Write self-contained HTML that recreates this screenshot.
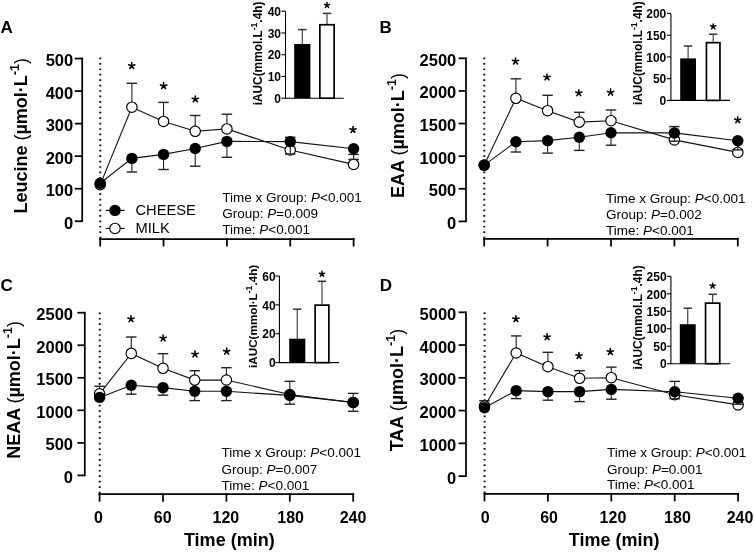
<!DOCTYPE html>
<html><head><meta charset="utf-8"><style>
html,body{margin:0;padding:0;background:#fff;}
svg{display:block;will-change:transform;font-family:"Liberation Sans", sans-serif;}
svg text{fill:#000;}
</style></head><body>
<svg width="754" height="552" viewBox="0 0 754 552">
<rect width="754" height="552" fill="#fff"/>
<line x1="82.2" y1="57.675" x2="82.2" y2="222.125" stroke="#000" stroke-width="1.75"/>
<line x1="74.8" y1="221.25" x2="82.2" y2="221.25" stroke="#000" stroke-width="1.75"/>
<text x="73.2" y="228.75" font-size="16.5" font-weight="bold" text-anchor="end" font-style="normal" >0</text>
<line x1="74.8" y1="188.71" x2="82.2" y2="188.71" stroke="#000" stroke-width="1.75"/>
<text x="73.2" y="196.21" font-size="16.5" font-weight="bold" text-anchor="end" font-style="normal" >100</text>
<line x1="74.8" y1="156.17000000000002" x2="82.2" y2="156.17000000000002" stroke="#000" stroke-width="1.75"/>
<text x="73.2" y="163.67000000000002" font-size="16.5" font-weight="bold" text-anchor="end" font-style="normal" >200</text>
<line x1="74.8" y1="123.63000000000001" x2="82.2" y2="123.63000000000001" stroke="#000" stroke-width="1.75"/>
<text x="73.2" y="131.13" font-size="16.5" font-weight="bold" text-anchor="end" font-style="normal" >300</text>
<line x1="74.8" y1="91.09" x2="82.2" y2="91.09" stroke="#000" stroke-width="1.75"/>
<text x="73.2" y="98.59" font-size="16.5" font-weight="bold" text-anchor="end" font-style="normal" >400</text>
<line x1="74.8" y1="58.55000000000001" x2="82.2" y2="58.55000000000001" stroke="#000" stroke-width="1.75"/>
<text x="73.2" y="66.05000000000001" font-size="16.5" font-weight="bold" text-anchor="end" font-style="normal" >500</text>
<line x1="99.2" y1="239.0" x2="354.6" y2="239.0" stroke="#000" stroke-width="1.75"/>
<line x1="100.2" y1="238.0" x2="100.2" y2="246.5" stroke="#000" stroke-width="1.75"/>
<line x1="163.55" y1="238.0" x2="163.55" y2="246.5" stroke="#000" stroke-width="1.75"/>
<line x1="226.9" y1="238.0" x2="226.9" y2="246.5" stroke="#000" stroke-width="1.75"/>
<line x1="290.25" y1="238.0" x2="290.25" y2="246.5" stroke="#000" stroke-width="1.75"/>
<line x1="353.6" y1="238.0" x2="353.6" y2="246.5" stroke="#000" stroke-width="1.75"/>
<line x1="100.3" y1="57.55" x2="100.3" y2="238.0" stroke="#000" stroke-width="1.9" stroke-dasharray="1.7 3.73"/>
<text x="0.5" y="32.8" font-size="17" font-weight="bold" text-anchor="start" font-style="normal" >A</text>
<text transform="translate(27.2,213.55) rotate(-90)" x="0" y="0" font-size="18" font-weight="bold" text-anchor="start">Leucine <tspan font-weight="normal">(</tspan>µmol·L<tspan dy="-8.0" font-size="12.5">-1</tspan><tspan dy="8.0" font-weight="normal">)</tspan></text>
<line x1="131.875" y1="107.2" x2="131.875" y2="83.3" stroke="#222" stroke-width="1.1"/>
<line x1="126.625" y1="83.3" x2="137.125" y2="83.3" stroke="#222" stroke-width="1.4000000000000001"/>
<line x1="163.55" y1="121.4" x2="163.55" y2="102.4" stroke="#222" stroke-width="1.1"/>
<line x1="158.3" y1="102.4" x2="168.8" y2="102.4" stroke="#222" stroke-width="1.4000000000000001"/>
<line x1="195.22500000000002" y1="131.3" x2="195.22500000000002" y2="115.5" stroke="#222" stroke-width="1.1"/>
<line x1="189.97500000000002" y1="115.5" x2="200.47500000000002" y2="115.5" stroke="#222" stroke-width="1.4000000000000001"/>
<line x1="226.9" y1="128.9" x2="226.9" y2="114.2" stroke="#222" stroke-width="1.1"/>
<line x1="221.65" y1="114.2" x2="232.15" y2="114.2" stroke="#222" stroke-width="1.4000000000000001"/>
<line x1="290.25" y1="150" x2="290.25" y2="137.3" stroke="#222" stroke-width="1.1"/>
<line x1="285.0" y1="137.3" x2="295.5" y2="137.3" stroke="#222" stroke-width="1.4000000000000001"/>
<line x1="353.6" y1="164.4" x2="353.6" y2="154.4" stroke="#222" stroke-width="1.1"/>
<line x1="348.35" y1="154.4" x2="358.85" y2="154.4" stroke="#222" stroke-width="1.4000000000000001"/>
<polyline points="100.2,184.6 131.875,107.2 163.55,121.4 195.22500000000002,131.3 226.9,128.9 290.25,150 353.6,164.4" fill="none" stroke="#111" stroke-width="1.1"/>
<circle cx="100.2" cy="184.6" r="5.2" fill="#fff" stroke="#000" stroke-width="1.15"/>
<circle cx="131.875" cy="107.2" r="5.2" fill="#fff" stroke="#000" stroke-width="1.15"/>
<circle cx="163.55" cy="121.4" r="5.2" fill="#fff" stroke="#000" stroke-width="1.15"/>
<circle cx="195.22500000000002" cy="131.3" r="5.2" fill="#fff" stroke="#000" stroke-width="1.15"/>
<circle cx="226.9" cy="128.9" r="5.2" fill="#fff" stroke="#000" stroke-width="1.15"/>
<circle cx="290.25" cy="150" r="5.2" fill="#fff" stroke="#000" stroke-width="1.15"/>
<circle cx="353.6" cy="164.4" r="5.2" fill="#fff" stroke="#000" stroke-width="1.15"/>
<polyline points="100.2,183.2 131.875,158.4 163.55,154.4 195.22500000000002,148.5 226.9,141.4 290.25,141.6 353.6,148.7" fill="none" stroke="#111" stroke-width="1.1"/>
<line x1="131.875" y1="158.4" x2="131.875" y2="172" stroke="#222" stroke-width="1.1"/>
<line x1="126.625" y1="172" x2="137.125" y2="172" stroke="#222" stroke-width="1.4000000000000001"/>
<line x1="163.55" y1="154.4" x2="163.55" y2="169.5" stroke="#222" stroke-width="1.1"/>
<line x1="158.3" y1="169.5" x2="168.8" y2="169.5" stroke="#222" stroke-width="1.4000000000000001"/>
<line x1="195.22500000000002" y1="148.5" x2="195.22500000000002" y2="166.2" stroke="#222" stroke-width="1.1"/>
<line x1="189.97500000000002" y1="166.2" x2="200.47500000000002" y2="166.2" stroke="#222" stroke-width="1.4000000000000001"/>
<line x1="226.9" y1="141.4" x2="226.9" y2="157.3" stroke="#222" stroke-width="1.1"/>
<line x1="221.65" y1="157.3" x2="232.15" y2="157.3" stroke="#222" stroke-width="1.4000000000000001"/>
<line x1="290.25" y1="141.6" x2="290.25" y2="154" stroke="#222" stroke-width="1.1"/>
<line x1="285.0" y1="154" x2="295.5" y2="154" stroke="#222" stroke-width="1.4000000000000001"/>
<line x1="353.6" y1="148.7" x2="353.6" y2="159.4" stroke="#222" stroke-width="1.1"/>
<line x1="348.35" y1="159.4" x2="358.85" y2="159.4" stroke="#222" stroke-width="1.4000000000000001"/>
<circle cx="100.2" cy="183.2" r="5.7" fill="#000"/>
<circle cx="131.875" cy="158.4" r="5.7" fill="#000"/>
<circle cx="163.55" cy="154.4" r="5.7" fill="#000"/>
<circle cx="195.22500000000002" cy="148.5" r="5.7" fill="#000"/>
<circle cx="226.9" cy="141.4" r="5.7" fill="#000"/>
<circle cx="290.25" cy="141.6" r="5.7" fill="#000"/>
<circle cx="353.6" cy="148.7" r="5.7" fill="#000"/>
<path d="M131.70,65.80L131.70,62.55M131.70,65.80L134.79,64.80M131.70,65.80L133.61,68.43M131.70,65.80L129.79,68.43M131.70,65.80L128.61,64.80" stroke="#000" stroke-width="1.6" stroke-linecap="round" fill="none"/>
<path d="M163.60,85.90L163.60,82.65M163.60,85.90L166.69,84.90M163.60,85.90L165.51,88.53M163.60,85.90L161.69,88.53M163.60,85.90L160.51,84.90" stroke="#000" stroke-width="1.6" stroke-linecap="round" fill="none"/>
<path d="M195.30,99.20L195.30,95.95M195.30,99.20L198.39,98.20M195.30,99.20L197.21,101.83M195.30,99.20L193.39,101.83M195.30,99.20L192.21,98.20" stroke="#000" stroke-width="1.6" stroke-linecap="round" fill="none"/>
<path d="M353.00,129.80L353.00,126.55M353.00,129.80L356.09,128.80M353.00,129.80L354.91,132.43M353.00,129.80L351.09,132.43M353.00,129.80L349.91,128.80" stroke="#000" stroke-width="1.6" stroke-linecap="round" fill="none"/>
<text x="222.3" y="202.0" font-size="13.5" font-weight="normal" text-anchor="start" font-style="normal" >Time x Group: <tspan font-style="italic">P</tspan>&lt;0.001</text>
<text x="222.3" y="218.2" font-size="13.5" font-weight="normal" text-anchor="start" font-style="normal" >Group: <tspan font-style="italic">P</tspan>=0.009</text>
<text x="222.3" y="234.4" font-size="13.5" font-weight="normal" text-anchor="start" font-style="normal" >Time: <tspan font-style="italic">P</tspan>&lt;0.001</text>
<line x1="285.5" y1="11.2" x2="285.5" y2="98.2" stroke="#000" stroke-width="1.1"/>
<line x1="281.5" y1="98.2" x2="285.5" y2="98.2" stroke="#000" stroke-width="1.1"/>
<text x="281.0" y="102.95" font-size="12" font-weight="bold" text-anchor="end" font-style="normal" >0</text>
<line x1="281.5" y1="76.45" x2="285.5" y2="76.45" stroke="#000" stroke-width="1.1"/>
<text x="281.0" y="81.2" font-size="12" font-weight="bold" text-anchor="end" font-style="normal" >10</text>
<line x1="281.5" y1="54.7" x2="285.5" y2="54.7" stroke="#000" stroke-width="1.1"/>
<text x="281.0" y="59.45" font-size="12" font-weight="bold" text-anchor="end" font-style="normal" >20</text>
<line x1="281.5" y1="32.95" x2="285.5" y2="32.95" stroke="#000" stroke-width="1.1"/>
<text x="281.0" y="37.7" font-size="12" font-weight="bold" text-anchor="end" font-style="normal" >30</text>
<line x1="281.5" y1="11.200000000000003" x2="285.5" y2="11.200000000000003" stroke="#000" stroke-width="1.1"/>
<text x="281.0" y="15.950000000000003" font-size="12" font-weight="bold" text-anchor="end" font-style="normal" >40</text>
<line x1="285.0" y1="98.2" x2="343.8" y2="98.2" stroke="#000" stroke-width="1.1"/>
<line x1="302.29999999999995" y1="44.0" x2="302.29999999999995" y2="29.6" stroke="#333" stroke-width="1.1"/>
<line x1="298.09999999999997" y1="29.6" x2="306.49999999999994" y2="29.6" stroke="#333" stroke-width="1.5"/>
<line x1="327.0" y1="23.9" x2="327.0" y2="13.4" stroke="#333" stroke-width="1.1"/>
<line x1="322.8" y1="13.4" x2="331.2" y2="13.4" stroke="#333" stroke-width="1.5"/>
<rect x="294.2" y="44.0" width="16.19999999999999" height="54.2" fill="#000"/>
<rect x="319.85" y="24.75" width="14.3" height="73.45000000000002" fill="#fff" stroke="#000" stroke-width="1.7"/>
<path d="M327.00,5.20L327.00,2.50M327.00,5.20L329.57,4.37M327.00,5.20L328.59,7.38M327.00,5.20L325.41,7.38M327.00,5.20L324.43,4.37" stroke="#000" stroke-width="1.5" stroke-linecap="round" fill="none"/>
<text transform="translate(261.8,105.3) rotate(-90)" x="0" y="0" font-size="11.85" font-weight="bold">iAUC(mmol.L<tspan dy="-5" font-size="8.6">-1</tspan><tspan dy="5">.4h)</tspan></text>
<line x1="466.0" y1="57.425" x2="466.0" y2="222.275" stroke="#000" stroke-width="1.75"/>
<line x1="458.6" y1="221.4" x2="466.0" y2="221.4" stroke="#000" stroke-width="1.75"/>
<text x="456.3" y="228.9" font-size="16.5" font-weight="bold" text-anchor="end" font-style="normal" >0</text>
<line x1="458.6" y1="188.78" x2="466.0" y2="188.78" stroke="#000" stroke-width="1.75"/>
<text x="456.3" y="196.28" font-size="16.5" font-weight="bold" text-anchor="end" font-style="normal" >500</text>
<line x1="458.6" y1="156.16" x2="466.0" y2="156.16" stroke="#000" stroke-width="1.75"/>
<text x="456.3" y="163.66" font-size="16.5" font-weight="bold" text-anchor="end" font-style="normal" >1000</text>
<line x1="458.6" y1="123.53999999999999" x2="466.0" y2="123.53999999999999" stroke="#000" stroke-width="1.75"/>
<text x="456.3" y="131.04" font-size="16.5" font-weight="bold" text-anchor="end" font-style="normal" >1500</text>
<line x1="458.6" y1="90.91999999999999" x2="466.0" y2="90.91999999999999" stroke="#000" stroke-width="1.75"/>
<text x="456.3" y="98.41999999999999" font-size="16.5" font-weight="bold" text-anchor="end" font-style="normal" >2000</text>
<line x1="458.6" y1="58.29999999999998" x2="466.0" y2="58.29999999999998" stroke="#000" stroke-width="1.75"/>
<text x="456.3" y="65.79999999999998" font-size="16.5" font-weight="bold" text-anchor="end" font-style="normal" >2500</text>
<line x1="483.2" y1="238.9" x2="738.8" y2="238.9" stroke="#000" stroke-width="1.75"/>
<line x1="484.2" y1="237.9" x2="484.2" y2="246.4" stroke="#000" stroke-width="1.75"/>
<line x1="547.6" y1="237.9" x2="547.6" y2="246.4" stroke="#000" stroke-width="1.75"/>
<line x1="611.0" y1="237.9" x2="611.0" y2="246.4" stroke="#000" stroke-width="1.75"/>
<line x1="674.4" y1="237.9" x2="674.4" y2="246.4" stroke="#000" stroke-width="1.75"/>
<line x1="737.8" y1="237.9" x2="737.8" y2="246.4" stroke="#000" stroke-width="1.75"/>
<line x1="484.3" y1="57.55" x2="484.3" y2="237.9" stroke="#000" stroke-width="1.9" stroke-dasharray="1.7 3.73"/>
<text x="379.55" y="32.6" font-size="17" font-weight="bold" text-anchor="start" font-style="normal" >B</text>
<text transform="translate(403.7,197.95) rotate(-90)" x="0" y="0" font-size="18" font-weight="bold" text-anchor="start">EAA <tspan font-weight="normal">(</tspan>µmol·L<tspan dy="-8.0" font-size="12.5">-1</tspan><tspan dy="8.0" font-weight="normal">)</tspan></text>
<line x1="515.9" y1="98.3" x2="515.9" y2="78.8" stroke="#222" stroke-width="1.1"/>
<line x1="510.65" y1="78.8" x2="521.15" y2="78.8" stroke="#222" stroke-width="1.4000000000000001"/>
<line x1="547.6" y1="110.7" x2="547.6" y2="95.3" stroke="#222" stroke-width="1.1"/>
<line x1="542.35" y1="95.3" x2="552.85" y2="95.3" stroke="#222" stroke-width="1.4000000000000001"/>
<line x1="579.3" y1="122.1" x2="579.3" y2="112.3" stroke="#222" stroke-width="1.1"/>
<line x1="574.05" y1="112.3" x2="584.55" y2="112.3" stroke="#222" stroke-width="1.4000000000000001"/>
<line x1="611.0" y1="120.7" x2="611.0" y2="110" stroke="#222" stroke-width="1.1"/>
<line x1="605.75" y1="110" x2="616.25" y2="110" stroke="#222" stroke-width="1.4000000000000001"/>
<line x1="674.4" y1="139.9" x2="674.4" y2="126.6" stroke="#222" stroke-width="1.1"/>
<line x1="669.15" y1="126.6" x2="679.65" y2="126.6" stroke="#222" stroke-width="1.4000000000000001"/>
<line x1="737.8" y1="152.4" x2="737.8" y2="141" stroke="#222" stroke-width="1.1"/>
<line x1="732.55" y1="141" x2="743.05" y2="141" stroke="#222" stroke-width="1.4000000000000001"/>
<polyline points="484.2,165.1 515.9,98.3 547.6,110.7 579.3,122.1 611.0,120.7 674.4,139.9 737.8,152.4" fill="none" stroke="#111" stroke-width="1.1"/>
<circle cx="484.2" cy="165.1" r="5.2" fill="#fff" stroke="#000" stroke-width="1.15"/>
<circle cx="515.9" cy="98.3" r="5.2" fill="#fff" stroke="#000" stroke-width="1.15"/>
<circle cx="547.6" cy="110.7" r="5.2" fill="#fff" stroke="#000" stroke-width="1.15"/>
<circle cx="579.3" cy="122.1" r="5.2" fill="#fff" stroke="#000" stroke-width="1.15"/>
<circle cx="611.0" cy="120.7" r="5.2" fill="#fff" stroke="#000" stroke-width="1.15"/>
<circle cx="674.4" cy="139.9" r="5.2" fill="#fff" stroke="#000" stroke-width="1.15"/>
<circle cx="737.8" cy="152.4" r="5.2" fill="#fff" stroke="#000" stroke-width="1.15"/>
<polyline points="484.2,165.1 515.9,141.8 547.6,140.6 579.3,137.2 611.0,132.7 674.4,132.9 737.8,140.7" fill="none" stroke="#111" stroke-width="1.1"/>
<line x1="515.9" y1="141.8" x2="515.9" y2="152" stroke="#222" stroke-width="1.1"/>
<line x1="510.65" y1="152" x2="521.15" y2="152" stroke="#222" stroke-width="1.4000000000000001"/>
<line x1="547.6" y1="140.6" x2="547.6" y2="153.1" stroke="#222" stroke-width="1.1"/>
<line x1="542.35" y1="153.1" x2="552.85" y2="153.1" stroke="#222" stroke-width="1.4000000000000001"/>
<line x1="579.3" y1="137.2" x2="579.3" y2="150.4" stroke="#222" stroke-width="1.1"/>
<line x1="574.05" y1="150.4" x2="584.55" y2="150.4" stroke="#222" stroke-width="1.4000000000000001"/>
<line x1="611.0" y1="132.7" x2="611.0" y2="145.2" stroke="#222" stroke-width="1.1"/>
<line x1="605.75" y1="145.2" x2="616.25" y2="145.2" stroke="#222" stroke-width="1.4000000000000001"/>
<line x1="674.4" y1="132.9" x2="674.4" y2="141.2" stroke="#222" stroke-width="1.1"/>
<line x1="669.15" y1="141.2" x2="679.65" y2="141.2" stroke="#222" stroke-width="1.4000000000000001"/>
<line x1="737.8" y1="140.7" x2="737.8" y2="149.9" stroke="#222" stroke-width="1.1"/>
<line x1="732.55" y1="149.9" x2="743.05" y2="149.9" stroke="#222" stroke-width="1.4000000000000001"/>
<circle cx="484.2" cy="165.1" r="5.7" fill="#000"/>
<circle cx="515.9" cy="141.8" r="5.7" fill="#000"/>
<circle cx="547.6" cy="140.6" r="5.7" fill="#000"/>
<circle cx="579.3" cy="137.2" r="5.7" fill="#000"/>
<circle cx="611.0" cy="132.7" r="5.7" fill="#000"/>
<circle cx="674.4" cy="132.9" r="5.7" fill="#000"/>
<circle cx="737.8" cy="140.7" r="5.7" fill="#000"/>
<path d="M515.50,61.30L515.50,58.05M515.50,61.30L518.59,60.30M515.50,61.30L517.41,63.93M515.50,61.30L513.59,63.93M515.50,61.30L512.41,60.30" stroke="#000" stroke-width="1.6" stroke-linecap="round" fill="none"/>
<path d="M547.00,77.20L547.00,73.95M547.00,77.20L550.09,76.20M547.00,77.20L548.91,79.83M547.00,77.20L545.09,79.83M547.00,77.20L543.91,76.20" stroke="#000" stroke-width="1.6" stroke-linecap="round" fill="none"/>
<path d="M578.80,93.00L578.80,89.75M578.80,93.00L581.89,92.00M578.80,93.00L580.71,95.63M578.80,93.00L576.89,95.63M578.80,93.00L575.71,92.00" stroke="#000" stroke-width="1.6" stroke-linecap="round" fill="none"/>
<path d="M610.60,92.40L610.60,89.15M610.60,92.40L613.69,91.40M610.60,92.40L612.51,95.03M610.60,92.40L608.69,95.03M610.60,92.40L607.51,91.40" stroke="#000" stroke-width="1.6" stroke-linecap="round" fill="none"/>
<path d="M737.70,120.00L737.70,116.75M737.70,120.00L740.79,119.00M737.70,120.00L739.61,122.63M737.70,120.00L735.79,122.63M737.70,120.00L734.61,119.00" stroke="#000" stroke-width="1.6" stroke-linecap="round" fill="none"/>
<text x="606.0" y="203.0" font-size="13.5" font-weight="normal" text-anchor="start" font-style="normal" >Time x Group: <tspan font-style="italic">P</tspan>&lt;0.001</text>
<text x="606.0" y="218.9" font-size="13.5" font-weight="normal" text-anchor="start" font-style="normal" >Group: <tspan font-style="italic">P</tspan>=0.002</text>
<text x="606.0" y="235.0" font-size="13.5" font-weight="normal" text-anchor="start" font-style="normal" >Time: <tspan font-style="italic">P</tspan>&lt;0.001</text>
<line x1="670.9" y1="13.4" x2="670.9" y2="100.4" stroke="#000" stroke-width="1.1"/>
<line x1="666.9" y1="100.4" x2="670.9" y2="100.4" stroke="#000" stroke-width="1.1"/>
<text x="666.3" y="105.15" font-size="12" font-weight="bold" text-anchor="end" font-style="normal" >0</text>
<line x1="666.9" y1="78.65" x2="670.9" y2="78.65" stroke="#000" stroke-width="1.1"/>
<text x="666.3" y="83.4" font-size="12" font-weight="bold" text-anchor="end" font-style="normal" >50</text>
<line x1="666.9" y1="56.900000000000006" x2="670.9" y2="56.900000000000006" stroke="#000" stroke-width="1.1"/>
<text x="666.3" y="61.650000000000006" font-size="12" font-weight="bold" text-anchor="end" font-style="normal" >100</text>
<line x1="666.9" y1="35.150000000000006" x2="670.9" y2="35.150000000000006" stroke="#000" stroke-width="1.1"/>
<text x="666.3" y="39.900000000000006" font-size="12" font-weight="bold" text-anchor="end" font-style="normal" >150</text>
<line x1="666.9" y1="13.400000000000006" x2="670.9" y2="13.400000000000006" stroke="#000" stroke-width="1.1"/>
<text x="666.3" y="18.150000000000006" font-size="12" font-weight="bold" text-anchor="end" font-style="normal" >200</text>
<line x1="670.4" y1="100.4" x2="730" y2="100.4" stroke="#000" stroke-width="1.1"/>
<line x1="688.1" y1="58.4" x2="688.1" y2="46.0" stroke="#333" stroke-width="1.1"/>
<line x1="683.9" y1="46.0" x2="692.3000000000001" y2="46.0" stroke="#333" stroke-width="1.5"/>
<line x1="713.2" y1="41.8" x2="713.2" y2="34.2" stroke="#333" stroke-width="1.1"/>
<line x1="709.0" y1="34.2" x2="717.4000000000001" y2="34.2" stroke="#333" stroke-width="1.5"/>
<rect x="680.2" y="58.4" width="15.799999999999955" height="42.00000000000001" fill="#000"/>
<rect x="706.45" y="42.65" width="13.499999999999932" height="57.75000000000001" fill="#fff" stroke="#000" stroke-width="1.7"/>
<path d="M713.20,26.60L713.20,23.90M713.20,26.60L715.77,25.77M713.20,26.60L714.79,28.78M713.20,26.60L711.61,28.78M713.20,26.60L710.63,25.77" stroke="#000" stroke-width="1.5" stroke-linecap="round" fill="none"/>
<text transform="translate(641.6,105.05) rotate(-90)" x="0" y="0" font-size="11.85" font-weight="bold">iAUC(mmol.L<tspan dy="-5" font-size="8.6">-1</tspan><tspan dy="5">.4h)</tspan></text>
<line x1="84.8" y1="311.825" x2="84.8" y2="476.275" stroke="#000" stroke-width="1.75"/>
<line x1="77.39999999999999" y1="475.4" x2="84.8" y2="475.4" stroke="#000" stroke-width="1.75"/>
<text x="73.0" y="482.9" font-size="16.5" font-weight="bold" text-anchor="end" font-style="normal" >0</text>
<line x1="77.39999999999999" y1="442.85999999999996" x2="84.8" y2="442.85999999999996" stroke="#000" stroke-width="1.75"/>
<text x="73.0" y="450.35999999999996" font-size="16.5" font-weight="bold" text-anchor="end" font-style="normal" >500</text>
<line x1="77.39999999999999" y1="410.32" x2="84.8" y2="410.32" stroke="#000" stroke-width="1.75"/>
<text x="73.0" y="417.82" font-size="16.5" font-weight="bold" text-anchor="end" font-style="normal" >1000</text>
<line x1="77.39999999999999" y1="377.78" x2="84.8" y2="377.78" stroke="#000" stroke-width="1.75"/>
<text x="73.0" y="385.28" font-size="16.5" font-weight="bold" text-anchor="end" font-style="normal" >1500</text>
<line x1="77.39999999999999" y1="345.24" x2="84.8" y2="345.24" stroke="#000" stroke-width="1.75"/>
<text x="73.0" y="352.74" font-size="16.5" font-weight="bold" text-anchor="end" font-style="normal" >2000</text>
<line x1="77.39999999999999" y1="312.7" x2="84.8" y2="312.7" stroke="#000" stroke-width="1.75"/>
<text x="73.0" y="320.2" font-size="16.5" font-weight="bold" text-anchor="end" font-style="normal" >2500</text>
<line x1="98.6" y1="494.2" x2="354.2" y2="494.2" stroke="#000" stroke-width="1.75"/>
<line x1="99.6" y1="493.2" x2="99.6" y2="501.7" stroke="#000" stroke-width="1.75"/>
<line x1="163.0" y1="493.2" x2="163.0" y2="501.7" stroke="#000" stroke-width="1.75"/>
<line x1="226.4" y1="493.2" x2="226.4" y2="501.7" stroke="#000" stroke-width="1.75"/>
<line x1="289.8" y1="493.2" x2="289.8" y2="501.7" stroke="#000" stroke-width="1.75"/>
<line x1="353.2" y1="493.2" x2="353.2" y2="501.7" stroke="#000" stroke-width="1.75"/>
<text x="98.4" y="522.6" font-size="16" font-weight="bold" text-anchor="middle" font-style="normal" >0</text>
<text x="162.7" y="522.6" font-size="16" font-weight="bold" text-anchor="middle" font-style="normal" >60</text>
<text x="225.85" y="522.6" font-size="16" font-weight="bold" text-anchor="middle" font-style="normal" >120</text>
<text x="290.65" y="522.6" font-size="16" font-weight="bold" text-anchor="middle" font-style="normal" >180</text>
<text x="353.0" y="522.6" font-size="16" font-weight="bold" text-anchor="middle" font-style="normal" >240</text>
<text x="229.3" y="546.2" font-size="18" font-weight="bold" text-anchor="middle" font-style="normal" >Time (min)</text>
<line x1="99.7" y1="312.45" x2="99.7" y2="493.2" stroke="#000" stroke-width="1.9" stroke-dasharray="1.7 3.73"/>
<text x="0.55" y="291.3" font-size="17" font-weight="bold" text-anchor="start" font-style="normal" >C</text>
<text transform="translate(19.8,458.85) rotate(-90)" x="0" y="0" font-size="18" font-weight="bold" text-anchor="start">NEAA <tspan font-weight="normal">(</tspan>µmol·L<tspan dy="-8.0" font-size="12.5">-1</tspan><tspan dy="8.0" font-weight="normal">)</tspan></text>
<line x1="99.6" y1="393.8" x2="99.6" y2="386.3" stroke="#222" stroke-width="1.1"/>
<line x1="94.35" y1="386.3" x2="104.85" y2="386.3" stroke="#222" stroke-width="1.4000000000000001"/>
<line x1="131.29999999999998" y1="353.4" x2="131.29999999999998" y2="337" stroke="#222" stroke-width="1.1"/>
<line x1="126.04999999999998" y1="337" x2="136.54999999999998" y2="337" stroke="#222" stroke-width="1.4000000000000001"/>
<line x1="163.0" y1="368.3" x2="163.0" y2="353.7" stroke="#222" stroke-width="1.1"/>
<line x1="157.75" y1="353.7" x2="168.25" y2="353.7" stroke="#222" stroke-width="1.4000000000000001"/>
<line x1="194.7" y1="380.1" x2="194.7" y2="370.7" stroke="#222" stroke-width="1.1"/>
<line x1="189.45" y1="370.7" x2="199.95" y2="370.7" stroke="#222" stroke-width="1.4000000000000001"/>
<line x1="226.39999999999998" y1="380.0" x2="226.39999999999998" y2="367.7" stroke="#222" stroke-width="1.1"/>
<line x1="221.14999999999998" y1="367.7" x2="231.64999999999998" y2="367.7" stroke="#222" stroke-width="1.4000000000000001"/>
<line x1="289.79999999999995" y1="394.5" x2="289.79999999999995" y2="381.3" stroke="#222" stroke-width="1.1"/>
<line x1="284.54999999999995" y1="381.3" x2="295.04999999999995" y2="381.3" stroke="#222" stroke-width="1.4000000000000001"/>
<line x1="353.2" y1="402.5" x2="353.2" y2="393.4" stroke="#222" stroke-width="1.1"/>
<line x1="347.95" y1="393.4" x2="358.45" y2="393.4" stroke="#222" stroke-width="1.4000000000000001"/>
<polyline points="99.6,393.8 131.29999999999998,353.4 163.0,368.3 194.7,380.1 226.39999999999998,380.0 289.79999999999995,394.5 353.2,402.5" fill="none" stroke="#111" stroke-width="1.1"/>
<circle cx="99.6" cy="393.8" r="5.2" fill="#fff" stroke="#000" stroke-width="1.15"/>
<circle cx="131.29999999999998" cy="353.4" r="5.2" fill="#fff" stroke="#000" stroke-width="1.15"/>
<circle cx="163.0" cy="368.3" r="5.2" fill="#fff" stroke="#000" stroke-width="1.15"/>
<circle cx="194.7" cy="380.1" r="5.2" fill="#fff" stroke="#000" stroke-width="1.15"/>
<circle cx="226.39999999999998" cy="380.0" r="5.2" fill="#fff" stroke="#000" stroke-width="1.15"/>
<circle cx="289.79999999999995" cy="394.5" r="5.2" fill="#fff" stroke="#000" stroke-width="1.15"/>
<circle cx="353.2" cy="402.5" r="5.2" fill="#fff" stroke="#000" stroke-width="1.15"/>
<polyline points="99.6,397.4 131.29999999999998,385.2 163.0,387.6 194.7,391.2 226.39999999999998,391.3 289.79999999999995,395.4 353.2,402.4" fill="none" stroke="#111" stroke-width="1.1"/>
<line x1="131.29999999999998" y1="385.2" x2="131.29999999999998" y2="394.2" stroke="#222" stroke-width="1.1"/>
<line x1="126.04999999999998" y1="394.2" x2="136.54999999999998" y2="394.2" stroke="#222" stroke-width="1.4000000000000001"/>
<line x1="163.0" y1="387.6" x2="163.0" y2="395.2" stroke="#222" stroke-width="1.1"/>
<line x1="157.75" y1="395.2" x2="168.25" y2="395.2" stroke="#222" stroke-width="1.4000000000000001"/>
<line x1="194.7" y1="391.2" x2="194.7" y2="400.6" stroke="#222" stroke-width="1.1"/>
<line x1="189.45" y1="400.6" x2="199.95" y2="400.6" stroke="#222" stroke-width="1.4000000000000001"/>
<line x1="226.39999999999998" y1="391.3" x2="226.39999999999998" y2="400.6" stroke="#222" stroke-width="1.1"/>
<line x1="221.14999999999998" y1="400.6" x2="231.64999999999998" y2="400.6" stroke="#222" stroke-width="1.4000000000000001"/>
<line x1="289.79999999999995" y1="395.4" x2="289.79999999999995" y2="404.2" stroke="#222" stroke-width="1.1"/>
<line x1="284.54999999999995" y1="404.2" x2="295.04999999999995" y2="404.2" stroke="#222" stroke-width="1.4000000000000001"/>
<line x1="353.2" y1="402.4" x2="353.2" y2="411.3" stroke="#222" stroke-width="1.1"/>
<line x1="347.95" y1="411.3" x2="358.45" y2="411.3" stroke="#222" stroke-width="1.4000000000000001"/>
<circle cx="99.6" cy="397.4" r="5.7" fill="#000"/>
<circle cx="131.29999999999998" cy="385.2" r="5.7" fill="#000"/>
<circle cx="163.0" cy="387.6" r="5.7" fill="#000"/>
<circle cx="194.7" cy="391.2" r="5.7" fill="#000"/>
<circle cx="226.39999999999998" cy="391.3" r="5.7" fill="#000"/>
<circle cx="289.79999999999995" cy="395.4" r="5.7" fill="#000"/>
<circle cx="353.2" cy="402.4" r="5.7" fill="#000"/>
<path d="M131.00,319.00L131.00,315.75M131.00,319.00L134.09,318.00M131.00,319.00L132.91,321.63M131.00,319.00L129.09,321.63M131.00,319.00L127.91,318.00" stroke="#000" stroke-width="1.6" stroke-linecap="round" fill="none"/>
<path d="M163.10,338.20L163.10,334.95M163.10,338.20L166.19,337.20M163.10,338.20L165.01,340.83M163.10,338.20L161.19,340.83M163.10,338.20L160.01,337.20" stroke="#000" stroke-width="1.6" stroke-linecap="round" fill="none"/>
<path d="M195.00,354.20L195.00,350.95M195.00,354.20L198.09,353.20M195.00,354.20L196.91,356.83M195.00,354.20L193.09,356.83M195.00,354.20L191.91,353.20" stroke="#000" stroke-width="1.6" stroke-linecap="round" fill="none"/>
<path d="M226.70,351.40L226.70,348.15M226.70,351.40L229.79,350.40M226.70,351.40L228.61,354.03M226.70,351.40L224.79,354.03M226.70,351.40L223.61,350.40" stroke="#000" stroke-width="1.6" stroke-linecap="round" fill="none"/>
<text x="221.5" y="457.0" font-size="13.5" font-weight="normal" text-anchor="start" font-style="normal" >Time x Group: <tspan font-style="italic">P</tspan>&lt;0.001</text>
<text x="221.5" y="473.6" font-size="13.5" font-weight="normal" text-anchor="start" font-style="normal" >Group: <tspan font-style="italic">P</tspan>=0.007</text>
<text x="221.5" y="489.5" font-size="13.5" font-weight="normal" text-anchor="start" font-style="normal" >Time: <tspan font-style="italic">P</tspan>&lt;0.001</text>
<line x1="279.4" y1="276.0" x2="279.4" y2="362.6" stroke="#000" stroke-width="1.1"/>
<line x1="275.4" y1="362.6" x2="279.4" y2="362.6" stroke="#000" stroke-width="1.1"/>
<text x="275.7" y="367.35" font-size="12" font-weight="bold" text-anchor="end" font-style="normal" >0</text>
<line x1="275.4" y1="333.73333333333335" x2="279.4" y2="333.73333333333335" stroke="#000" stroke-width="1.1"/>
<text x="275.7" y="338.48333333333335" font-size="12" font-weight="bold" text-anchor="end" font-style="normal" >20</text>
<line x1="275.4" y1="304.8666666666667" x2="279.4" y2="304.8666666666667" stroke="#000" stroke-width="1.1"/>
<text x="275.7" y="309.6166666666667" font-size="12" font-weight="bold" text-anchor="end" font-style="normal" >40</text>
<line x1="275.4" y1="276.0" x2="279.4" y2="276.0" stroke="#000" stroke-width="1.1"/>
<text x="275.7" y="280.75" font-size="12" font-weight="bold" text-anchor="end" font-style="normal" >60</text>
<line x1="278.9" y1="362.6" x2="339" y2="362.6" stroke="#000" stroke-width="1.1"/>
<line x1="297.25" y1="338.7" x2="297.25" y2="309.2" stroke="#333" stroke-width="1.1"/>
<line x1="293.05" y1="309.2" x2="301.45" y2="309.2" stroke="#333" stroke-width="1.5"/>
<line x1="322.0" y1="304.3" x2="322.0" y2="281.3" stroke="#333" stroke-width="1.1"/>
<line x1="317.8" y1="281.3" x2="326.2" y2="281.3" stroke="#333" stroke-width="1.5"/>
<rect x="289.2" y="338.7" width="16.100000000000023" height="23.900000000000034" fill="#000"/>
<rect x="315.15000000000003" y="305.15000000000003" width="13.699999999999978" height="57.45000000000001" fill="#fff" stroke="#000" stroke-width="1.7"/>
<path d="M322.00,274.00L322.00,271.30M322.00,274.00L324.57,273.17M322.00,274.00L323.59,276.18M322.00,274.00L320.41,276.18M322.00,274.00L319.43,273.17" stroke="#000" stroke-width="1.5" stroke-linecap="round" fill="none"/>
<text transform="translate(257.0,367.95) rotate(-90)" x="0" y="0" font-size="11.7" font-weight="bold">iAUC(mmol·L<tspan dy="-5" font-size="8.6">-1</tspan><tspan dy="5">.4h)</tspan></text>
<line x1="466.0" y1="311.425" x2="466.0" y2="476.975" stroke="#000" stroke-width="1.75"/>
<line x1="458.6" y1="476.1" x2="466.0" y2="476.1" stroke="#000" stroke-width="1.75"/>
<text x="456.3" y="483.6" font-size="16.5" font-weight="bold" text-anchor="end" font-style="normal" >0</text>
<line x1="458.6" y1="443.34000000000003" x2="466.0" y2="443.34000000000003" stroke="#000" stroke-width="1.75"/>
<text x="456.3" y="450.84000000000003" font-size="16.5" font-weight="bold" text-anchor="end" font-style="normal" >1000</text>
<line x1="458.6" y1="410.58000000000004" x2="466.0" y2="410.58000000000004" stroke="#000" stroke-width="1.75"/>
<text x="456.3" y="418.08000000000004" font-size="16.5" font-weight="bold" text-anchor="end" font-style="normal" >2000</text>
<line x1="458.6" y1="377.82000000000005" x2="466.0" y2="377.82000000000005" stroke="#000" stroke-width="1.75"/>
<text x="456.3" y="385.32000000000005" font-size="16.5" font-weight="bold" text-anchor="end" font-style="normal" >3000</text>
<line x1="458.6" y1="345.06" x2="466.0" y2="345.06" stroke="#000" stroke-width="1.75"/>
<text x="456.3" y="352.56" font-size="16.5" font-weight="bold" text-anchor="end" font-style="normal" >4000</text>
<line x1="458.6" y1="312.3" x2="466.0" y2="312.3" stroke="#000" stroke-width="1.75"/>
<text x="456.3" y="319.8" font-size="16.5" font-weight="bold" text-anchor="end" font-style="normal" >5000</text>
<line x1="483.5" y1="493.9" x2="739.1" y2="493.9" stroke="#000" stroke-width="1.75"/>
<line x1="484.5" y1="492.9" x2="484.5" y2="501.4" stroke="#000" stroke-width="1.75"/>
<line x1="547.9" y1="492.9" x2="547.9" y2="501.4" stroke="#000" stroke-width="1.75"/>
<line x1="611.3" y1="492.9" x2="611.3" y2="501.4" stroke="#000" stroke-width="1.75"/>
<line x1="674.7" y1="492.9" x2="674.7" y2="501.4" stroke="#000" stroke-width="1.75"/>
<line x1="738.1" y1="492.9" x2="738.1" y2="501.4" stroke="#000" stroke-width="1.75"/>
<text x="485.2" y="522.6" font-size="16" font-weight="bold" text-anchor="middle" font-style="normal" >0</text>
<text x="549.1" y="522.6" font-size="16" font-weight="bold" text-anchor="middle" font-style="normal" >60</text>
<text x="612.95" y="522.6" font-size="16" font-weight="bold" text-anchor="middle" font-style="normal" >120</text>
<text x="677.45" y="522.6" font-size="16" font-weight="bold" text-anchor="middle" font-style="normal" >180</text>
<text x="740.0" y="522.6" font-size="16" font-weight="bold" text-anchor="middle" font-style="normal" >240</text>
<text x="614.2" y="546.2" font-size="18" font-weight="bold" text-anchor="middle" font-style="normal" >Time (min)</text>
<line x1="484.6" y1="312.3" x2="484.6" y2="492.9" stroke="#000" stroke-width="1.9" stroke-dasharray="1.7 3.73"/>
<text x="379.75" y="291.0" font-size="17" font-weight="bold" text-anchor="start" font-style="normal" >D</text>
<text transform="translate(402.9,451.35) rotate(-90)" x="0" y="0" font-size="18" font-weight="bold" text-anchor="start">TAA <tspan font-weight="normal">(</tspan>µmol·L<tspan dy="-8.0" font-size="12.5">-1</tspan><tspan dy="8.0" font-weight="normal">)</tspan></text>
<line x1="484.5" y1="406.2" x2="484.5" y2="400.8" stroke="#222" stroke-width="1.1"/>
<line x1="479.25" y1="400.8" x2="489.75" y2="400.8" stroke="#222" stroke-width="1.4000000000000001"/>
<line x1="516.2" y1="353.0" x2="516.2" y2="335.9" stroke="#222" stroke-width="1.1"/>
<line x1="510.95000000000005" y1="335.9" x2="521.45" y2="335.9" stroke="#222" stroke-width="1.4000000000000001"/>
<line x1="547.9" y1="366.7" x2="547.9" y2="352.3" stroke="#222" stroke-width="1.1"/>
<line x1="542.65" y1="352.3" x2="553.15" y2="352.3" stroke="#222" stroke-width="1.4000000000000001"/>
<line x1="579.6" y1="378.3" x2="579.6" y2="370.7" stroke="#222" stroke-width="1.1"/>
<line x1="574.35" y1="370.7" x2="584.85" y2="370.7" stroke="#222" stroke-width="1.4000000000000001"/>
<line x1="611.3" y1="377.7" x2="611.3" y2="367.1" stroke="#222" stroke-width="1.1"/>
<line x1="606.05" y1="367.1" x2="616.55" y2="367.1" stroke="#222" stroke-width="1.4000000000000001"/>
<line x1="674.7" y1="394.7" x2="674.7" y2="381.4" stroke="#222" stroke-width="1.1"/>
<line x1="669.45" y1="381.4" x2="679.95" y2="381.4" stroke="#222" stroke-width="1.4000000000000001"/>
<line x1="738.1" y1="404.9" x2="738.1" y2="398" stroke="#222" stroke-width="1.1"/>
<line x1="732.85" y1="398" x2="743.35" y2="398" stroke="#222" stroke-width="1.4000000000000001"/>
<polyline points="484.5,406.2 516.2,353.0 547.9,366.7 579.6,378.3 611.3,377.7 674.7,394.7 738.1,404.9" fill="none" stroke="#111" stroke-width="1.1"/>
<circle cx="484.5" cy="406.2" r="5.2" fill="#fff" stroke="#000" stroke-width="1.15"/>
<circle cx="516.2" cy="353.0" r="5.2" fill="#fff" stroke="#000" stroke-width="1.15"/>
<circle cx="547.9" cy="366.7" r="5.2" fill="#fff" stroke="#000" stroke-width="1.15"/>
<circle cx="579.6" cy="378.3" r="5.2" fill="#fff" stroke="#000" stroke-width="1.15"/>
<circle cx="611.3" cy="377.7" r="5.2" fill="#fff" stroke="#000" stroke-width="1.15"/>
<circle cx="674.7" cy="394.7" r="5.2" fill="#fff" stroke="#000" stroke-width="1.15"/>
<circle cx="738.1" cy="404.9" r="5.2" fill="#fff" stroke="#000" stroke-width="1.15"/>
<polyline points="484.5,407.8 516.2,390.6 547.9,391.6 579.6,391.6 611.3,389.4 674.7,391.7 738.1,398.2" fill="none" stroke="#111" stroke-width="1.1"/>
<line x1="516.2" y1="390.6" x2="516.2" y2="398.6" stroke="#222" stroke-width="1.1"/>
<line x1="510.95000000000005" y1="398.6" x2="521.45" y2="398.6" stroke="#222" stroke-width="1.4000000000000001"/>
<line x1="547.9" y1="391.6" x2="547.9" y2="400.2" stroke="#222" stroke-width="1.1"/>
<line x1="542.65" y1="400.2" x2="553.15" y2="400.2" stroke="#222" stroke-width="1.4000000000000001"/>
<line x1="579.6" y1="391.6" x2="579.6" y2="401.6" stroke="#222" stroke-width="1.1"/>
<line x1="574.35" y1="401.6" x2="584.85" y2="401.6" stroke="#222" stroke-width="1.4000000000000001"/>
<line x1="611.3" y1="389.4" x2="611.3" y2="399.2" stroke="#222" stroke-width="1.1"/>
<line x1="606.05" y1="399.2" x2="616.55" y2="399.2" stroke="#222" stroke-width="1.4000000000000001"/>
<line x1="674.7" y1="391.7" x2="674.7" y2="398.8" stroke="#222" stroke-width="1.1"/>
<line x1="669.45" y1="398.8" x2="679.95" y2="398.8" stroke="#222" stroke-width="1.4000000000000001"/>
<line x1="738.1" y1="398.2" x2="738.1" y2="404.2" stroke="#222" stroke-width="1.1"/>
<line x1="732.85" y1="404.2" x2="743.35" y2="404.2" stroke="#222" stroke-width="1.4000000000000001"/>
<circle cx="484.5" cy="407.8" r="5.7" fill="#000"/>
<circle cx="516.2" cy="390.6" r="5.7" fill="#000"/>
<circle cx="547.9" cy="391.6" r="5.7" fill="#000"/>
<circle cx="579.6" cy="391.6" r="5.7" fill="#000"/>
<circle cx="611.3" cy="389.4" r="5.7" fill="#000"/>
<circle cx="674.7" cy="391.7" r="5.7" fill="#000"/>
<circle cx="738.1" cy="398.2" r="5.7" fill="#000"/>
<path d="M515.90,319.00L515.90,315.75M515.90,319.00L518.99,318.00M515.90,319.00L517.81,321.63M515.90,319.00L513.99,321.63M515.90,319.00L512.81,318.00" stroke="#000" stroke-width="1.6" stroke-linecap="round" fill="none"/>
<path d="M547.10,337.00L547.10,333.75M547.10,337.00L550.19,336.00M547.10,337.00L549.01,339.63M547.10,337.00L545.19,339.63M547.10,337.00L544.01,336.00" stroke="#000" stroke-width="1.6" stroke-linecap="round" fill="none"/>
<path d="M579.00,355.80L579.00,352.55M579.00,355.80L582.09,354.80M579.00,355.80L580.91,358.43M579.00,355.80L577.09,358.43M579.00,355.80L575.91,354.80" stroke="#000" stroke-width="1.6" stroke-linecap="round" fill="none"/>
<path d="M610.30,351.80L610.30,348.55M610.30,351.80L613.39,350.80M610.30,351.80L612.21,354.43M610.30,351.80L608.39,354.43M610.30,351.80L607.21,350.80" stroke="#000" stroke-width="1.6" stroke-linecap="round" fill="none"/>
<text x="606.9" y="457.0" font-size="13.5" font-weight="normal" text-anchor="start" font-style="normal" >Time x Group: <tspan font-style="italic">P</tspan>&lt;0.001</text>
<text x="606.9" y="473.6" font-size="13.5" font-weight="normal" text-anchor="start" font-style="normal" >Group: <tspan font-style="italic">P</tspan>=0.001</text>
<text x="606.9" y="489.0" font-size="13.5" font-weight="normal" text-anchor="start" font-style="normal" >Time: <tspan font-style="italic">P</tspan>&lt;0.001</text>
<line x1="670.9" y1="276.3" x2="670.9" y2="363.7" stroke="#000" stroke-width="1.1"/>
<line x1="666.9" y1="363.7" x2="670.9" y2="363.7" stroke="#000" stroke-width="1.1"/>
<text x="666.6" y="368.45" font-size="12" font-weight="bold" text-anchor="end" font-style="normal" >0</text>
<line x1="666.9" y1="346.21999999999997" x2="670.9" y2="346.21999999999997" stroke="#000" stroke-width="1.1"/>
<text x="666.6" y="350.96999999999997" font-size="12" font-weight="bold" text-anchor="end" font-style="normal" >50</text>
<line x1="666.9" y1="328.74" x2="670.9" y2="328.74" stroke="#000" stroke-width="1.1"/>
<text x="666.6" y="333.49" font-size="12" font-weight="bold" text-anchor="end" font-style="normal" >100</text>
<line x1="666.9" y1="311.26" x2="670.9" y2="311.26" stroke="#000" stroke-width="1.1"/>
<text x="666.6" y="316.01" font-size="12" font-weight="bold" text-anchor="end" font-style="normal" >150</text>
<line x1="666.9" y1="293.78" x2="670.9" y2="293.78" stroke="#000" stroke-width="1.1"/>
<text x="666.6" y="298.53" font-size="12" font-weight="bold" text-anchor="end" font-style="normal" >200</text>
<line x1="666.9" y1="276.3" x2="670.9" y2="276.3" stroke="#000" stroke-width="1.1"/>
<text x="666.6" y="281.05" font-size="12" font-weight="bold" text-anchor="end" font-style="normal" >250</text>
<line x1="670.4" y1="363.7" x2="730" y2="363.7" stroke="#000" stroke-width="1.1"/>
<line x1="687.75" y1="324.2" x2="687.75" y2="308.2" stroke="#333" stroke-width="1.1"/>
<line x1="683.55" y1="308.2" x2="691.95" y2="308.2" stroke="#333" stroke-width="1.5"/>
<line x1="712.6500000000001" y1="302.3" x2="712.6500000000001" y2="294.3" stroke="#333" stroke-width="1.1"/>
<line x1="708.45" y1="294.3" x2="716.8500000000001" y2="294.3" stroke="#333" stroke-width="1.5"/>
<rect x="679.8" y="324.2" width="15.900000000000091" height="39.5" fill="#000"/>
<rect x="705.5500000000001" y="303.15000000000003" width="14.199999999999978" height="60.549999999999976" fill="#fff" stroke="#000" stroke-width="1.7"/>
<path d="M712.65,285.90L712.65,283.20M712.65,285.90L715.22,285.07M712.65,285.90L714.24,288.08M712.65,285.90L711.06,288.08M712.65,285.90L710.08,285.07" stroke="#000" stroke-width="1.5" stroke-linecap="round" fill="none"/>
<text transform="translate(641.6,369.45) rotate(-90)" x="0" y="0" font-size="11.9" font-weight="bold">iAUC(mmol.L<tspan dy="-5" font-size="8.6">-1</tspan><tspan dy="5">.4h)</tspan></text>
<line x1="105.6" y1="210.4" x2="124.7" y2="210.4" stroke="#000" stroke-width="1.1"/>
<circle cx="115" cy="210.4" r="5.7" fill="#000"/>
<line x1="105.6" y1="228.4" x2="124.7" y2="228.4" stroke="#000" stroke-width="1.1"/>
<circle cx="115" cy="228.4" r="5.2" fill="#fff" stroke="#000" stroke-width="1.15"/>
<text x="135.5" y="215.1" font-size="14.7" font-weight="normal" text-anchor="start" font-style="normal" >CHEESE</text>
<text x="135.5" y="233.1" font-size="14.7" font-weight="normal" text-anchor="start" font-style="normal" >MILK</text>
</svg>
</body></html>
